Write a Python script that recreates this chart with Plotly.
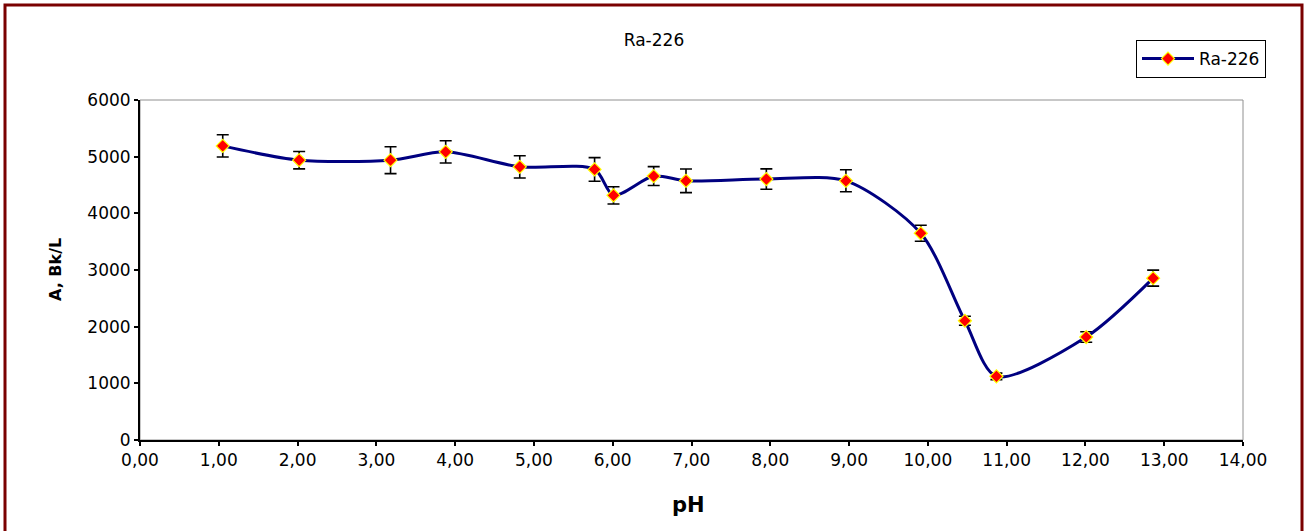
import plotly.graph_objects as go

# Ra-226 activity vs pH
ph = [1.05, 2.02, 3.18, 3.88, 4.82, 5.77, 6.01, 6.52, 6.93, 7.95, 8.96, 9.91, 10.47, 10.87, 12.01, 12.86]
activity = [5190, 4938, 4938, 5085, 4820, 4775, 4317, 4657, 4574, 4604, 4574, 3648, 2104, 1123, 1817, 2856]
activity_err = [197, 153, 238, 197, 197, 208, 153, 167, 208, 180, 194, 141, 79, 58, 93, 141]

x_ticks = [i for i in range(0, 15)]
y_ticks = [0, 1000, 2000, 3000, 4000, 5000, 6000]

W, H = 1308, 531
ML, MR, MT, MB = 140, 65, 100, 91
PW, PH_ = W - ML - MR, H - MT - MB

FONT = "DejaVu Sans, Liberation Sans, Arial, sans-serif"


def px_x(px):
    return (px - ML) / PW


def px_y(py):
    return (H - MB - py) / PH_


fig = go.Figure()
fig.add_trace(go.Scatter(
    x=ph, y=activity,
    mode="lines+markers",
    name="Ra-226",
    line=dict(color="#000080", width=3, shape="spline", smoothing=0.8),
    marker=dict(symbol="diamond", size=10, color="#ff0000",
                line=dict(color="#ffff00", width=1.2)),
    error_y=dict(type="data", array=activity_err, visible=True,
                 color="#000000", thickness=1.6, width=6),
))

fig.update_layout(
    width=W, height=H,
    margin=dict(l=ML, r=MR, t=MT, b=MB, autoexpand=False),
    paper_bgcolor="white", plot_bgcolor="white",
    separators=", ",
    font=dict(family=FONT, size=17, color="#000000"),
    title=dict(text="Ra-226", x=0.5, xref="container", xanchor="center",
               y=1 - 40 / H, yref="container", yanchor="middle",
               font=dict(family=FONT, size=17, color="#000000")),
    showlegend=True,
    legend=dict(x=px_x(1136), y=px_y(40), xanchor="left", yanchor="top",
                bordercolor="#000000", borderwidth=1, bgcolor="white",
                font=dict(family=FONT, size=17), itemwidth=52),
    xaxis=dict(range=[0, 14], tickvals=x_ticks, tickformat=".2f",
               showgrid=False, zeroline=False,
               showline=True, linecolor="#000000", linewidth=2,
               ticks="outside", ticklen=4, tickwidth=2, tickcolor="#000000",
               tickfont=dict(family=FONT, size=17)),
    yaxis=dict(range=[0, 6000], tickvals=y_ticks, tickformat="d",
               showgrid=False, zeroline=False,
               showline=True, linecolor="#000000", linewidth=2,
               ticks="outside", ticklen=4, tickwidth=2, tickcolor="#000000",
               tickfont=dict(family=FONT, size=17)),
    shapes=[
        # plot area frame (top/right edges in grey)
        dict(type="rect", xref="paper", yref="paper", x0=0, x1=1, y0=0, y1=1,
             line=dict(color="#909090", width=1), layer="below"),
        # outer chart border
        dict(type="rect", xref="paper", yref="paper",
             x0=px_x(5), x1=px_x(1302), y0=px_y(560), y1=px_y(5),
             line=dict(color="#7a0000", width=3), layer="above"),
    ],
    annotations=[
        dict(text="<b>A, Bk/L</b>", xref="paper", yref="paper",
             x=px_x(55), y=0.5, textangle=-90, showarrow=False,
             xanchor="center", yanchor="middle",
             font=dict(family=FONT, size=16, color="#000000")),
        dict(text="<b>pH</b>", xref="paper", yref="paper",
             x=px_x(688), y=px_y(505), showarrow=False,
             xanchor="center", yanchor="middle",
             font=dict(family=FONT, size=21, color="#000000")),
    ],
)

fig.write_html("out.html")
